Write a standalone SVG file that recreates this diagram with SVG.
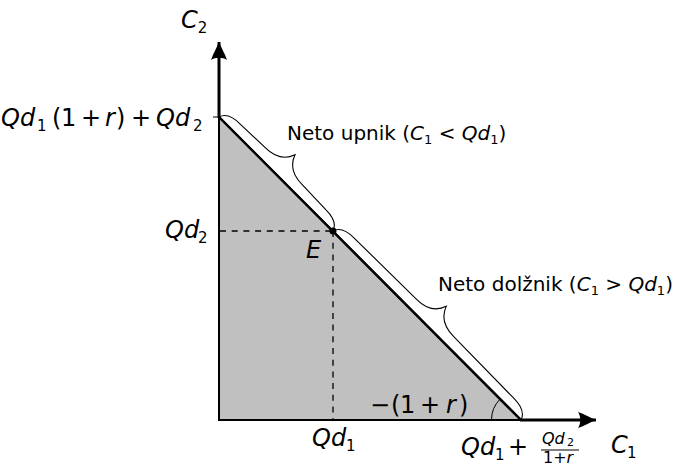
<svg xmlns="http://www.w3.org/2000/svg" width="674" height="465" viewBox="0 0 674 465">
<style>
text{font-family:"DejaVu Sans","Liberation Sans",Arial,sans-serif;fill:#000}
.m{font-size:24px}
.t{font-size:20px}
.i{font-style:italic}
.s{font-size:15px}
.ss{font-size:13px}
.sf{font-size:11px}
.f{font-size:16px}
.brace{fill:none;stroke:#000;stroke-width:1.1}
.dash{fill:none;stroke:#000;stroke-width:1.3;stroke-dasharray:6 5.7}
.axis{fill:none;stroke:#000;stroke-width:3}
</style>
<defs>
<marker id="ah" markerWidth="20" markerHeight="20" viewBox="-18 -9 20 18" refX="0" refY="0" orient="auto" markerUnits="userSpaceOnUse">
<path d="M0,0 C-5,-2 -12,-6 -18,-8 C-15,-4 -15,4 -18,8 C-12,6 -5,2 0,0 Z" fill="#000"/>
</marker>
</defs>
<g id="region">
<path d="M219,117 L521,420 L219,420 Z" fill="#c0c0c0" stroke="#000" stroke-width="2"/>
</g>
<g id="connectors">
<line class="axis" x1="219" y1="118" x2="219" y2="42" marker-end="url(#ah)"/>
<line class="axis" x1="520" y1="420" x2="596" y2="420" marker-end="url(#ah)"/>
<line x1="213" y1="117" x2="219" y2="117" stroke="#000" stroke-width="1"/>
<line x1="219" y1="117" x2="521" y2="420" stroke="#000" stroke-width="2.4"/>
<line class="dash" x1="220" y1="231" x2="333" y2="231"/>
<line class="dash" x1="333" y1="231" x2="333" y2="419"/>
<path class="brace" transform="translate(219,117) rotate(45)" d="M0,0 C2,-7 8,-10 20,-10 L54,-11 C68,-11 77,-17 80.5,-27 C84,-17 93,-11 107,-11 L141,-10 C153,-10 159,-7 161,0"/>
<path class="brace" transform="translate(333,231) rotate(45.1)" d="M0,0 C2,-7 8,-10 20,-10 L107,-11 C121,-11 130,-17 133.3,-27 C137,-17 146,-11 160,-11 L246,-10 C258,-10 264,-7 266.6,0"/>
<path d="M491.5,420 A29.5,29.5 0 0 1 500.1,399.1" fill="none" stroke="#000" stroke-width="1"/>
</g>
<g id="E">
<circle cx="333" cy="231" r="3.5" fill="#000"/>
<text class="m i" x="306" y="258">E</text>
</g>
<g id="labels">
<text class="m" x="181" y="28"><tspan class="i">C</tspan><tspan class="s" dy="5">2</tspan></text>
<text class="m" y="126"><tspan class="i" x="1">Qd</tspan><tspan class="s" x="37" dy="5">1</tspan><tspan x="52" dy="-5">(</tspan><tspan x="61">1</tspan><tspan x="81">+</tspan><tspan class="i" x="105">r</tspan><tspan x="116">)</tspan><tspan x="131">+</tspan><tspan class="i" x="156">Qd</tspan><tspan class="s" x="193" dy="5">2</tspan></text>
<text class="m" y="238"><tspan class="i" x="165">Qd</tspan><tspan class="s" x="198" dy="5">2</tspan></text>
<text class="m" y="446"><tspan class="i" x="312">Qd</tspan><tspan class="s" x="346" dy="5">1</tspan></text>
<text class="m" y="413"><tspan x="370">−</tspan><tspan x="391">(</tspan><tspan x="400">1</tspan><tspan x="420">+</tspan><tspan class="i" x="446">r</tspan><tspan x="459">)</tspan></text>
<text class="m" y="455"><tspan class="i" x="461">Qd</tspan><tspan class="s" x="495" dy="5">1</tspan><tspan x="508" dy="-5">+</tspan></text>
<text class="f" y="444"><tspan class="i" x="542">Qd</tspan><tspan class="sf" x="567" dy="2">2</tspan></text>
<line x1="541" y1="450" x2="579" y2="450" stroke="#000" stroke-width="1"/>
<text class="f" x="543" y="463">1+<tspan class="i">r</tspan></text>
<text class="m" y="453"><tspan class="i" x="611">C</tspan><tspan class="s" x="627" dy="5">1</tspan></text>
</g>
<g id="upnik">
<text class="t" x="287" y="140">Neto upnik (<tspan class="i">C</tspan><tspan class="ss" dy="4">1</tspan><tspan dy="-4"> &lt; </tspan><tspan class="i">Qd</tspan><tspan class="ss" dy="4">1</tspan><tspan dy="-4">)</tspan></text>
</g>
<g id="dolznik">
<text class="t" x="438" y="291">Neto dolžnik (<tspan class="i">C</tspan><tspan class="ss" dy="4">1</tspan><tspan dy="-4"> &gt; </tspan><tspan class="i">Qd</tspan><tspan class="ss" dy="4">1</tspan><tspan dy="-4">)</tspan></text>
</g>
</svg>
